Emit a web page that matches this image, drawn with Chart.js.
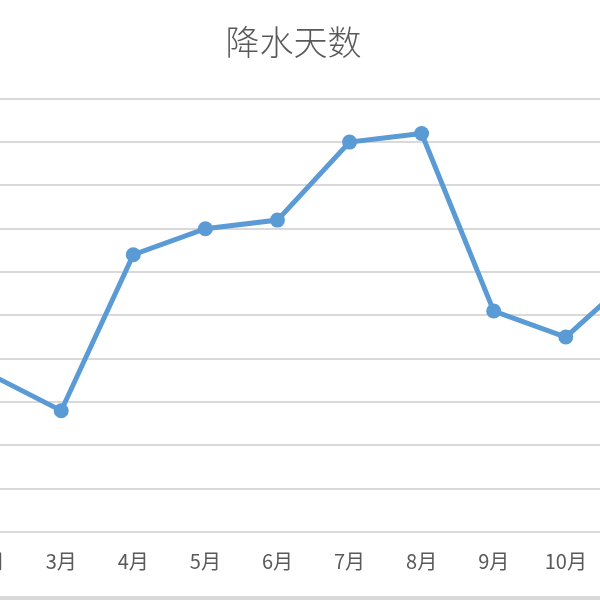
<!DOCTYPE html>
<html>
<head>
<meta charset="utf-8">
<script src="https://cdn.jsdelivr.net/npm/chart.js@4"></script>
<style>
  html, body { margin: 0; padding: 0; background: #fff; }
  #wrap { position: relative; width: 600px; height: 600px; overflow: hidden; }
  #rain-chart { position: absolute; left: -201px; top: 0; }
  #frame { position: absolute; left: 0; top: 596px; width: 600px; height: 4px; background: #d9d9d9; }
</style>
</head>
<body>
<div id="wrap">
  <canvas id="rain-chart" width="1000" height="596"></canvas>
  <div id="frame"></div>
</div>
<script>
// Chart data
const chartTitle = '降水天数';
const months = ['1月', '2月', '3月', '4月', '5月', '6月', '7月', '8月', '9月', '10月', '11月', '12月'];
const rainDays = [6.0, 7.3, 5.6, 12.8, 14.0, 14.4, 18.0, 18.4, 10.2, 9.0, 12.0, 8.0];
const yTicks = [0, 2, 4, 6, 8, 10, 12, 14, 16, 18, 20];

const textColor = '#595959';
const gridColor = '#d9d9d9';
const lineColor = '#5b9bd5';
const fontFamily = '"Noto Sans CJK SC", "Noto Sans", sans-serif';

const ctx = document.getElementById('rain-chart').getContext('2d');

new Chart(ctx, {
  type: 'line',
  data: {
    labels: months,
    datasets: [{
      label: chartTitle,
      data: rainDays,
      borderColor: lineColor,
      backgroundColor: lineColor,
      borderWidth: 5,
      pointRadius: 7.5,
      pointHoverRadius: 7.5,
      pointBackgroundColor: lineColor,
      pointBorderWidth: 0,
      tension: 0,
      fill: false
    }]
  },
  options: {
    responsive: false,
    animation: false,
    layout: { padding: { left: 42, right: 53, top: 0, bottom: 0 } },
    plugins: {
      legend: { display: false },
      tooltip: { enabled: false },
      title: {
        display: true,
        text: chartTitle,
        color: textColor,
        font: { family: fontFamily, size: 34, weight: 300 },
        padding: { top: 22, bottom: 36 }
      }
    },
    scales: {
      x: {
        offset: true,
        grid: { display: false, drawTicks: false },
        border: { display: true, color: gridColor, width: 2 },
        ticks: {
          color: textColor,
          font: { family: fontFamily, size: 20 },
          padding: 17,
          maxRotation: 0
        },
        afterFit: (scale) => { scale.height = 64; }
      },
      y: {
        min: yTicks[0],
        max: yTicks[yTicks.length - 1],
        afterBuildTicks: (scale) => { scale.ticks = yTicks.map(v => ({ value: v })); },
        grid: { color: gridColor, lineWidth: 2, drawTicks: false },
        border: { display: false },
        ticks: {
          color: textColor,
          font: { family: fontFamily, size: 18 },
          padding: 10
        },
        afterFit: (scale) => { scale.width = 40; }
      }
    }
  }
});
</script>
</body>
</html>
